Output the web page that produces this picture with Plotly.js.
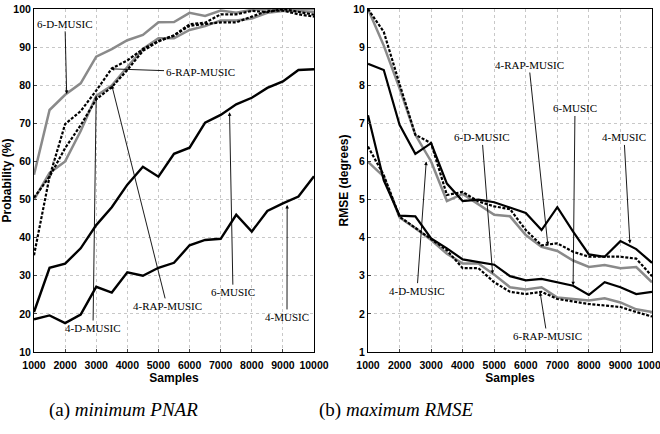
<!DOCTYPE html>
<html><head><meta charset="utf-8">
<script src="https://cdn.plot.ly/plotly-3.0.1.min.js"></script>
<style>html,body{margin:0;padding:0;background:#fff}#c{width:660px;height:434px}</style>
</head><body><div id="c"></div>
<script>
const samples = [1000,1500,2000,2500,3000,3500,4000,4500,5000,5500,6000,6500,7000,7500,8000,8500,9000,9500,10000];
const xTicks = [1000,2000,3000,4000,5000,6000,7000,8000,9000,10000];

// (a) minimum PNAR, probability (%)
const pnar6D   = [56.5,73.5,77.5,80.5,87.5,89.5,91.8,93.2,96.5,96.6,99,98.2,99.6,99,99.8,100,100,100,100];
const pnar6RAP = [35.4,56,69.8,73.2,78.6,84.4,86.5,89.5,91.6,93.1,96,96.4,98.6,98.6,99.5,99.2,100,99.2,98.5];
const pnar4D   = [50,57,60,68,77.2,79.9,84.8,89.5,92.3,92.3,94.5,95.5,97,97,97.5,99,99.5,99.5,99.2];
const pnar4RAP = [50.5,56,63.5,69.5,76.3,79.5,84,89,91.5,93,95.6,96,96.5,96.5,98,99.5,99.6,98.6,98];
const pnar6M   = [20.5,32.1,33.2,37.2,43.3,48,53.9,58.6,56,62,63.6,70.2,72.2,75,76.7,79.3,81,84,84.2];
const pnar4M   = [18.6,19.6,17.6,19.8,27.1,25.6,30.9,30,32.1,33.4,38,39.4,39.7,46,41.6,47,49,50.8,56.1];

// (b) maximum RMSE (degrees)
const rmseGrayU  = [10,9.04,7.92,6.7,6.0,4.96,5.15,4.87,4.6,4.56,4.07,3.76,3.65,3.4,3.23,3.28,3.2,3.23,2.83];
const rmseDashU  = [10,9.4,8.03,6.7,6.48,5.12,5.2,4.95,4.82,4.75,4.2,3.8,3.85,3.63,3.5,3.5,3.5,3.45,2.99];
const rmseBlackU = [8.56,8.4,6.96,6.2,6.48,5.42,4.96,5.0,4.93,4.78,4.65,4.2,4.8,4.16,3.56,3.5,3.91,3.7,3.34];
const rmseBlackL = [7.21,5.5,4.58,4.56,3.98,3.72,3.43,3.36,3.29,2.99,2.88,2.92,2.83,2.74,2.5,2.83,2.7,2.52,2.58];
const rmseDashL  = [6.39,5.64,4.55,4.25,3.95,3.67,3.2,3.2,2.83,2.58,2.52,2.58,2.39,2.32,2.26,2.22,2.18,2.05,1.93];
const rmseGrayL  = [5.99,5.6,4.53,4.25,3.94,3.58,3.32,3.32,3.03,2.7,2.64,2.7,2.43,2.39,2.35,2.41,2.3,2.12,2.05];

const GRAY = '#8a8a8a', BLACK = '#000', DASH = '3px,1.6px';
function tr(y, xa, ya, color, dash, w){
  return {x: samples, y: y, xaxis: xa, yaxis: ya, mode: 'lines', type: 'scatter',
    line: {color: color, dash: dash, width: w}, hoverinfo: 'skip', showlegend: false};
}
const data = [
  tr(pnar6M,'x','y',BLACK,'solid',2.4),
  tr(pnar4M,'x','y',BLACK,'solid',2.4),
  tr(pnar6D,'x','y',GRAY,'solid',2.5),
  tr(pnar4D,'x','y',GRAY,'solid',2.5),
  tr(pnar6RAP,'x','y',BLACK,DASH,2.2),
  tr(pnar4RAP,'x','y',BLACK,DASH,2.2),
  tr(rmseGrayU,'x2','y2',GRAY,'solid',2.5),
  tr(rmseGrayL,'x2','y2',GRAY,'solid',2.5),
  tr(rmseBlackU,'x2','y2',BLACK,'solid',2.2),
  tr(rmseBlackL,'x2','y2',BLACK,'solid',2.2),
  tr(rmseDashU,'x2','y2',BLACK,DASH,2.2),
  tr(rmseDashL,'x2','y2',BLACK,DASH,2.2)
];

const SANS = '"Liberation Sans Narrow", "Arial Narrow", "Liberation Sans", Arial, sans-serif';
const tickFont = {family: SANS, size: 10.5, weight: 'bold', color: '#000'};
const titleFont = {family: SANS, size: 12, weight: 'bold', color: '#000'};
const yTitleFont = {family: '"Liberation Sans", Arial, sans-serif', size: 12, weight: 'bold', color: '#000'};
function xax(dom, anchor){
  return {domain: dom, anchor: anchor, range: [1000,10000], tickvals: xTicks, ticktext: xTicks.map(String),
    tickangle: 0, automargin: false, ticklabeloverflow: 'allow', ticklabelstandoff: 3,
    showgrid: true, gridcolor: '#c8c8c8', griddash: 'dot', gridwidth: 1, zeroline: false,
    showline: true, mirror: true, linecolor: '#000', linewidth: 1, ticks: 'inside', ticklen: 3,
    tickfont: tickFont, title: {text: 'Samples', font: titleFont, standoff: 0}};
}
function yax(dom, anchor, range, dtick, title){
  return {domain: dom, anchor: anchor, range: range, dtick: dtick, tick0: range[0], automargin: false,
    showgrid: true, gridcolor: '#c8c8c8', griddash: 'dot', gridwidth: 1, zeroline: false,
    showline: true, mirror: true, linecolor: '#000', linewidth: 1, ticks: 'inside', ticklen: 3,
    tickfont: tickFont, title: {text: title, font: yTitleFont, standoff: 2}};
}
const yDom = [82/434, 425/434];
const annFont = {family: '"Liberation Serif", "DejaVu Serif", serif', size: 11, color: '#000'};
function arr(xr, yr, x, y, ax, ay, text){
  return {xref: xr, yref: yr, axref: xr, ayref: yr, x: x, y: y, ax: ax, ay: ay, text: text,
    showarrow: true, arrowhead: 2, arrowsize: 0.8, arrowwidth: 0.9, arrowcolor: '#000',
    font: annFont, bgcolor: 'rgba(0,0,0,0)'};
}
const capFont = {family: '"Liberation Serif", "Times New Roman", serif', size: 19, color: '#000'};
const annotations = [
  arr('x','y',2050,77.7,1996,96.1,'6-D-MUSIC'),
  arr('x','y',3463,84.3,6336,83.5,'6-RAP-MUSIC'),
  arr('x','y',3000,77.3,2896,16.3,'4-D-MUSIC'),
  arr('x','y',3500,80,5275,22.1,'4-RAP-MUSIC'),
  arr('x','y',7285,72.9,7396,25.7,'6-MUSIC'),
  arr('x','y',9137,48.6,9132,19.2,'4-MUSIC'),
  arr('x2','y2',6700,3.8,6102,8.53,'4-RAP-MUSIC'),
  arr('x2','y2',7500,2.75,7560,7.39,'6-MUSIC'),
  arr('x2','y2',9300,3.85,9113,6.63,'4-MUSIC'),
  arr('x2','y2',4950,3.05,4613,6.63,'6-D-MUSIC'),
  arr('x2','y2',2846,6.0,2553,2.61,'4-D-MUSIC'),
  arr('x2','y2',6453,2.57,6673,1.42,'6-RAP-MUSIC'),
  {xref: 'paper', yref: 'paper', x: 124/660, y: 1 - 410/434, xanchor: 'center', yanchor: 'middle', showarrow: false,
   text: '(a) <i>minimum PNAR</i>', font: capFont},
  {xref: 'paper', yref: 'paper', x: 396/660, y: 1 - 410/434, xanchor: 'center', yanchor: 'middle', showarrow: false,
   text: '(b) <i>maximum RMSE</i>', font: capFont}
];

const layout = {
  width: 660, height: 434, margin: {l: 0, r: 0, t: 0, b: 0},
  paper_bgcolor: '#fff', plot_bgcolor: '#fff', showlegend: false,
  xaxis: xax([34/660, 314/660], 'y'),
  yaxis: yax(yDom, 'x', [10,100], 10, 'Probability (%)'),
  xaxis2: xax([368/660, 652/660], 'y2'),
  yaxis2: yax(yDom, 'x2', [1,10], 1, 'RMSE (degrees)'),
  annotations: annotations
};
Plotly.newPlot('c', data, layout, {staticPlot: true, displayModeBar: false});
</script></body></html>
